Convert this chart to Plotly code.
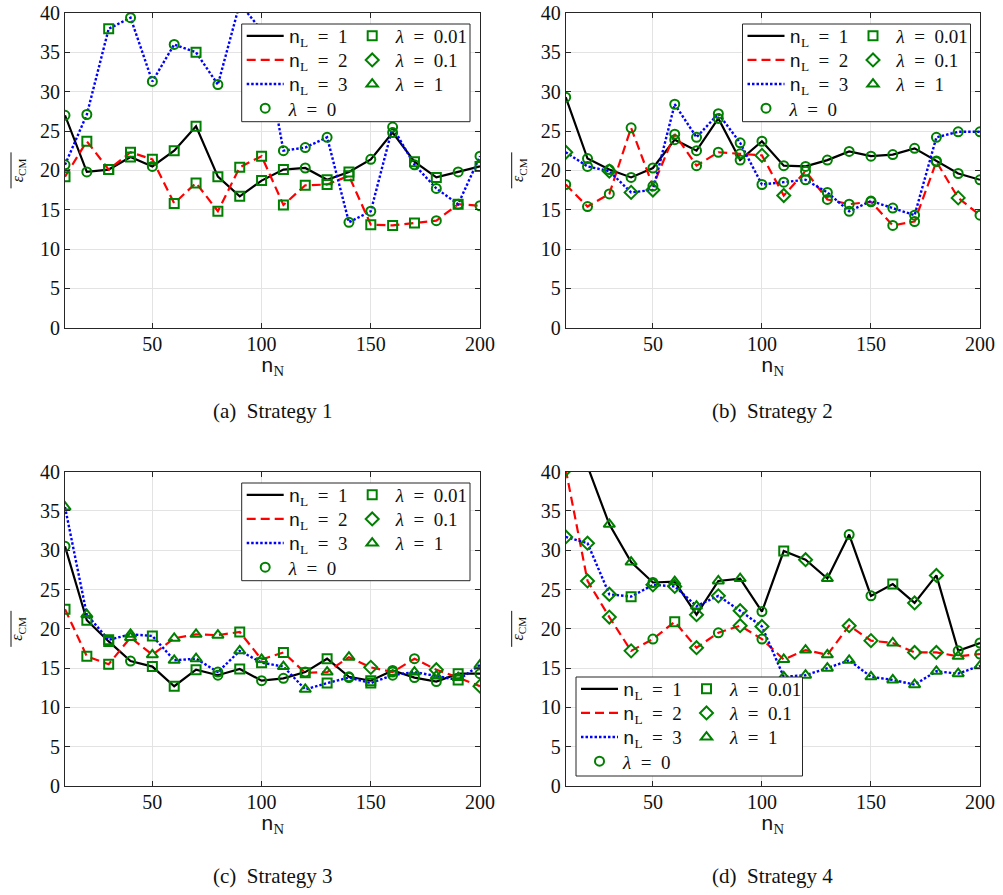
import plotly.graph_objects as go

# sample counts n_N shared by every strategy
n_N = [10, 20, 30, 40, 50, 60, 70, 80, 90, 100,
       110, 120, 130, 140, 150, 160, 170, 180, 190, 200]

# mean error per number of layers n_L, and the regularisation lambda selected at each point
s1_nl1 = [27.0, 19.8, 20.1, 21.7, 20.5, 22.5, 25.6, 19.2, 16.7, 18.7,
          20.1, 20.3, 18.8, 19.8, 21.4, 24.8, 21.1, 19.1, 19.8, 20.5]
s1_nl1_lam = [0, 0, 0.01, 0.01, 0, 0.01, 0.01, 0.01, 0.01, 0.01,
              0.01, 0, 0.01, 0.01, 0, 0, 0.01, 0.01, 0, 0.01]
s1_nl2 = [19.2, 23.7, 20.1, 22.3, 21.4, 15.8, 18.4, 14.8, 20.4, 21.8,
          15.6, 18.1, 18.2, 19.3, 13.1, 13.0, 13.3, 13.6, 15.7, 15.5]
s1_nl2_lam = [0.01, 0.01, 0.01, 0.01, 0.01, 0.01, 0.01, 0.01, 0.01, 0.01,
              0.01, 0.01, 0.01, 0.01, 0.01, 0.01, 0.01, 0, 0.01, 0]
s1_nl3 = [20.7, 27.1, 38.0, 39.4, 31.3, 36.0, 35.0, 30.9, 41.2, 37.8,
          22.5, 22.9, 24.2, 13.4, 14.8, 25.5, 20.7, 17.7, 15.7, 21.8]
s1_nl3_lam = [0, 0, 0.01, 0, 0, 0, 0.01, 0, 0, 0,
              0, 0, 0, 0, 0, 0, 0, 0, 0, 0]

s2_nl1 = [29.3, 21.5, 20.1, 19.1, 20.3, 23.9, 22.5, 26.6, 21.3, 23.7,
          20.6, 20.5, 21.3, 22.4, 21.8, 22.0, 22.8, 21.2, 19.6, 18.8]
s2_nl1_lam = [0] * 20
s2_nl2 = [18.2, 15.4, 17.0, 25.4, 18.0, 24.6, 20.6, 22.3, 22.1, 21.9,
          16.8, 19.9, 16.3, 15.7, 16.0, 13.0, 13.5, 21.1, 16.5, 14.3]
s2_nl2_lam = [0, 0, 0, 0, 0, 0, 0, 0, 0, 0.1,
              0.1, 0, 0, 0, 0, 0, 0, 0, 0.1, 0]
s2_nl3 = [22.3, 20.5, 19.9, 17.2, 17.5, 28.4, 24.2, 27.2, 23.5, 18.2,
          18.5, 18.8, 17.2, 14.8, 16.1, 15.2, 14.3, 24.2, 24.9, 24.9]
s2_nl3_lam = [0.1, 0, 0.1, 0.1, 0.1, 0, 0, 0, 0, 0,
              0, 0, 0, 0, 0, 0, 0, 0, 0, 0]

s3_nl1 = [30.5, 21.1, 18.4, 15.9, 15.2, 12.7, 14.8, 14.1, 14.9, 13.4,
          13.7, 14.5, 16.2, 13.9, 13.4, 14.7, 13.8, 13.3, 14.3, 14.3]
s3_nl1_lam = [0, 0.01, 0.01, 0, 0.01, 0.01, 0.01, 0, 0.01, 0,
              0, 0, 0.01, 0, 0.01, 0, 0, 0, 0.01, 0]
s3_nl2 = [22.5, 16.5, 15.5, 18.9, 16.7, 18.8, 19.3, 19.2, 19.6, 16.1,
          17.0, 14.4, 14.5, 16.4, 15.1, 14.5, 16.2, 14.8, 13.8, 12.7]
s3_nl2_lam = [0.01, 0.01, 0.01, 1, 1, 1, 1, 1, 0.01, 1,
              0.01, 0.01, 1, 1, 0.1, 0, 0, 0.1, 1, 0.1]
s3_nl3 = [35.5, 21.8, 18.6, 19.3, 19.1, 16.0, 16.2, 14.5, 17.2, 15.7,
          15.2, 12.3, 13.1, 13.8, 13.1, 14.1, 14.5, 14.0, 13.5, 15.4]
s3_nl3_lam = [1, 1, 0.01, 1, 0.01, 1, 1, 0, 1, 0.01,
              1, 1, 0.01, 0, 0.01, 0, 1, 1, 0.01, 1]

s4_nl1 = [52.0, 40.7, 33.3, 28.5, 25.9, 26.0, 21.8, 26.1, 26.4, 22.2,
          29.9, 28.8, 26.4, 32.0, 24.2, 25.7, 23.3, 26.8, 17.2, 18.2]
s4_nl1_lam = [1, 1, 1, 1, 0, 1, 0.1, 1, 1, 0,
              0.01, 0.1, 1, 0, 0, 0.01, 0.1, 0.1, 0, 0]
s4_nl2 = [40.3, 26.1, 21.5, 17.2, 18.7, 20.9, 17.6, 19.5, 20.4, 18.7,
          16.1, 17.3, 16.7, 20.4, 18.5, 18.2, 17.0, 17.0, 16.5, 16.8]
s4_nl2_lam = [0.1, 0.1, 0.1, 0.1, 0, 0.01, 0.1, 0, 0.1, 0,
              1, 1, 1, 0.1, 0.1, 1, 0.1, 0.1, 1, 0]
s4_nl3 = [31.7, 30.9, 24.4, 24.1, 25.6, 25.4, 22.9, 24.2, 22.3, 20.3,
          13.9, 14.1, 15.0, 16.0, 13.9, 13.5, 12.9, 14.6, 14.3, 15.3]
s4_nl3_lam = [0.1, 0.1, 0.1, 0.01, 0.1, 0.1, 1, 0.1, 0.1, 0.1,
              1, 1, 1, 1, 1, 1, 1, 1, 1, 1]

captions = ["(a)  Strategy 1", "(b)  Strategy 2", "(c)  Strategy 3", "(d)  Strategy 4"]
layer_counts = [1, 2, 3]
lambdas = [0, 0.01, 0.1, 1]
y_ticks = [0, 5, 10, 15, 20, 25, 30, 35, 40]
x_ticks = [50, 100, 150, 200]

strategies = [
    [(s1_nl1, s1_nl1_lam), (s1_nl2, s1_nl2_lam), (s1_nl3, s1_nl3_lam)],
    [(s2_nl1, s2_nl1_lam), (s2_nl2, s2_nl2_lam), (s2_nl3, s2_nl3_lam)],
    [(s3_nl1, s3_nl1_lam), (s3_nl2, s3_nl2_lam), (s3_nl3, s3_nl3_lam)],
    [(s4_nl1, s4_nl1_lam), (s4_nl2, s4_nl2_lam), (s4_nl3, s4_nl3_lam)],
]

# ---- styling ----
W, H = 1003, 895
SERIF = "Liberation Serif"
MONO = "Liberation Mono"
INK = "#262626"
TXT = "#111111"
GREEN = "#008000"
NB = "\u00a0"
line_styles = {
    1: dict(color="#000000", width=2.2, dash="solid"),
    2: dict(color="#ff0000", width=2.2, dash="9px,5px"),
    3: dict(color="#0000ff", width=2.4, dash="2.5px,2px"),
}
lam_symbols = {0: "circle-open", 0.01: "square-open", 0.1: "diamond-open", 1: "triangle-up-open"}
lam_sizes = {0: 9, 0.01: 9, 0.1: 10, 1: 10}
# legend grid cell (row, column) for each entry
nl_cells = {1: (0, 0), 2: (1, 0), 3: (2, 0)}
lam_cells = {0: (3, 0), 0.01: (0, 1), 0.1: (1, 1), 1: (2, 1)}

# plot-area boxes in pixels: (left, top, right, bottom)
boxes = [(65, 13, 480, 327.7), (565.7, 13, 980, 327.7),
         (65, 471.7, 480, 786), (565.7, 471.7, 980, 786)]
# legend frames in pixels: (left, top, right, bottom)
legend_frames = [(241.7, 24, 470, 121.7), (742.5, 24, 970.5, 121.7),
                 (241.7, 483, 470, 580.7), (576, 677, 802.5, 776)]
# offsets below each plot box for the axis title and the caption
title_gap = [39, 39, 39, 39]
caption_gap = [83, 83, 90, 90]
ROW0, ROW_STEP = 12, 24.1
COL_X = [0, 107]


def px_x(v):
    return v / W


def px_y(v):
    return 1 - v / H


def nl_label(n):
    return f"<span style='font-family:{MONO}'>n</span><sub>L</sub>{NB}{NB}={NB}{NB}{n}"


def lam_label(lam):
    return f"<i>λ</i>{NB}{NB}={NB}{NB}{lam}"


fig = go.Figure()
layout = {}
shapes = []
annotations = []
leg_count = 0

leg_common = dict(bgcolor="rgba(0,0,0,0)", borderwidth=0, orientation="v",
                  font=dict(family=SERIF, size=19, color=TXT),
                  itemwidth=37, xanchor="left", yanchor="middle",
                  traceorder="normal", tracegroupgap=0, visible=True)


def new_legend(frame, cell):
    """Create a one-entry legend placed at a grid cell inside a legend frame."""
    global leg_count
    leg_count += 1
    name = "legend" if leg_count == 1 else f"legend{leg_count}"
    fl, ft = frame[0], frame[1]
    row, col = cell
    layout[name] = dict(leg_common, x=px_x(fl + COL_X[col]),
                        y=px_y(ft + ROW0 + ROW_STEP * row))
    return name


for k, series in enumerate(strategies):
    ax = "" if k == 0 else str(k + 1)
    xa, ya = "x" + ax, "y" + ax
    frame = legend_frames[k]

    # lines, one per layer count
    for n, (vals, _) in zip(layer_counts, series):
        fig.add_trace(go.Scatter(
            x=n_N, y=vals, mode="lines", name=nl_label(n), showlegend=True,
            line=line_styles[n], xaxis=xa, yaxis=ya,
            legend=new_legend(frame, nl_cells[n]), hoverinfo="skip"))

    # markers grouped by the selected lambda
    for lam in lambdas:
        xs, ys = [], []
        for vals, lams in series:
            for xv, yv, lv in zip(n_N, vals, lams):
                if lv == lam:
                    xs.append(xv)
                    ys.append(yv)
        if not xs:
            xs, ys = [None], [None]
        fig.add_trace(go.Scatter(
            x=xs, y=ys, mode="markers", name=lam_label(lam), showlegend=True,
            marker=dict(symbol=lam_symbols[lam], size=lam_sizes[lam], color=GREEN,
                        line=dict(width=2, color=GREEN)),
            xaxis=xa, yaxis=ya,
            legend=new_legend(frame, lam_cells[lam]), hoverinfo="skip"))

    l, t, r, b = boxes[k]
    axis_common = dict(showline=True, linecolor=INK, linewidth=1, mirror="ticks",
                       ticks="inside", ticklen=5, tickcolor=INK, automargin=False,
                       showgrid=True, gridcolor="#e3e3e3", gridwidth=1,
                       zeroline=False, tickfont=dict(family=SERIF, size=20, color=TXT))
    layout["xaxis" + ax] = dict(axis_common, domain=[px_x(l), px_x(r)], range=[10, 200],
                                tickvals=x_ticks, anchor=ya, ticklabelstandoff=-2)
    layout["yaxis" + ax] = dict(axis_common, domain=[px_y(b), px_y(t)], range=[0, 40],
                                tickvals=y_ticks, anchor=xa)

    # legend frame, white-filled over the data
    fl, ft, fr, fb = frame
    shapes.append(dict(type="rect", xref="paper", yref="paper",
                       x0=px_x(fl), x1=px_x(fr), y0=px_y(fb), y1=px_y(ft),
                       line=dict(color=INK, width=1), fillcolor="white", layer="above"))

    cx = (l + r) / 2
    cy = (t + b) / 2
    # x-axis title
    annotations.append(dict(
        text=f"<span style='font-family:{MONO}'>n</span><sub>N</sub>",
        x=px_x(cx), y=px_y(b + title_gap[k]), xref="paper", yref="paper",
        showarrow=False, xanchor="center", yanchor="middle",
        font=dict(family=SERIF, size=21, color=TXT)))
    # y-axis title (mean error, with its overbar drawn as a rule)
    annotations.append(dict(
        text="<i>ε</i><sub>C</sub><sub>M</sub>",
        x=px_x(l - 47), y=px_y(cy), xref="paper", yref="paper",
        showarrow=False, textangle=-90, xanchor="center", yanchor="middle",
        font=dict(family=SERIF, size=16, color=TXT)))
    shapes.append(dict(type="line", xref="paper", yref="paper",
                       x0=px_x(l - 54), x1=px_x(l - 54),
                       y0=px_y(cy - 18), y1=px_y(cy + 18),
                       line=dict(color=TXT, width=1)))
    # caption
    annotations.append(dict(
        text=captions[k], x=px_x(cx), y=px_y(b + caption_gap[k]), xref="paper", yref="paper",
        showarrow=False, xanchor="center", yanchor="middle",
        font=dict(family=SERIF, size=21, color=TXT)))

fig.update_layout(
    template="none", showlegend=True,
    width=W, height=H, margin=dict(l=0, r=0, t=0, b=0, pad=0, autoexpand=False),
    paper_bgcolor="white", plot_bgcolor="white",
    shapes=shapes, annotations=annotations, **layout)

fig.write_html("out.html")
